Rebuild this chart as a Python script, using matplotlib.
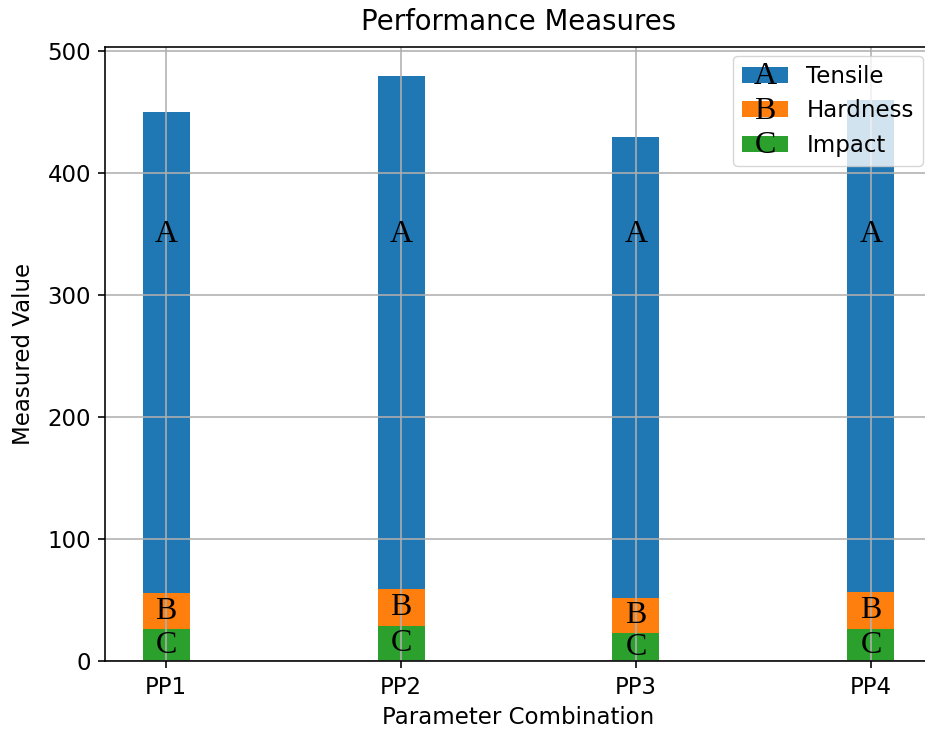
import matplotlib
matplotlib.use("Agg")
import matplotlib.pyplot as plt
from matplotlib.patches import Rectangle
from matplotlib.legend_handler import HandlerBase
import numpy as np

combos = ["PP1", "PP2", "PP3", "PP4"]
tensile = [450, 480, 430, 460]
hardness = [56, 59, 52, 57]
impact = [26, 29, 23, 26]
series_names = ["Tensile", "Hardness", "Impact"]
series_letters = ["A", "B", "C"]
a_label_y = 350

SCALE = 1.65
LETTER_FONT = dict(family="Liberation Serif", fontsize=23)


class LetterPatchHandler(HandlerBase):
    def __init__(self, letter):
        super().__init__()
        self.letter = letter

    def create_artists(self, legend, orig_handle, xdescent, ydescent,
                       width, height, fontsize, trans):
        rect = Rectangle((-xdescent, -ydescent), width, height,
                         facecolor=orig_handle.get_facecolor(),
                         edgecolor="none", transform=trans)
        txt = plt.Text(-xdescent + width / 2, -ydescent - 1, self.letter,
                       ha="center", va="baseline", transform=trans,
                       **LETTER_FONT)
        return [rect, txt]


fig = plt.figure(figsize=(9.25, 7.33), dpi=100)
ax = fig.add_axes([0.1135, 0.0982, 1.0076 - 0.1135, 0.9364 - 0.0982])

x = np.arange(len(combos))
w = 0.2
b1 = ax.bar(x, tensile, w, color="#1f77b4", label=series_names[0])
b2 = ax.bar(x, hardness, w, color="#ff7f0e", label=series_names[1])
b3 = ax.bar(x, impact, w, color="#2ca02c", label=series_names[2])

for i in range(len(combos)):
    ax.text(x[i], a_label_y, "A", ha="center", va="center", **LETTER_FONT)
    ax.text(x[i], (hardness[i] + impact[i]) / 2, "B", ha="center", va="center", **LETTER_FONT)
    ax.text(x[i], impact[i] / 2, "C", ha="center", va="center", **LETTER_FONT)

ax.set_xticks(x)
ax.set_xticklabels(combos)
ax.tick_params(labelsize=10 * SCALE, length=3.5 * 1.445, width=0.8 * 1.445,
               pad=3.5 * 1.445)
ax.tick_params(axis="x", pad=6)
ax.grid(True, linewidth=0.8 * 1.445)
for s in ax.spines.values():
    s.set_linewidth(0.8 * 1.445)

ax.set_xlabel("Parameter Combination", fontsize=10 * SCALE, labelpad=5)
ax.set_ylabel("Measured Value", fontsize=10 * SCALE, labelpad=9)
ax.set_title("Performance Measures", fontsize=12 * SCALE, pad=12)

handles = [b1.patches[0], b2.patches[0], b3.patches[0]]
ax.legend(handles, series_names, loc="upper right", fontsize=10 * SCALE,
          borderaxespad=0.4,
          handler_map={h: LetterPatchHandler(l) for h, l in zip(handles, series_letters)})

fig.savefig("out.png", dpi=100)
